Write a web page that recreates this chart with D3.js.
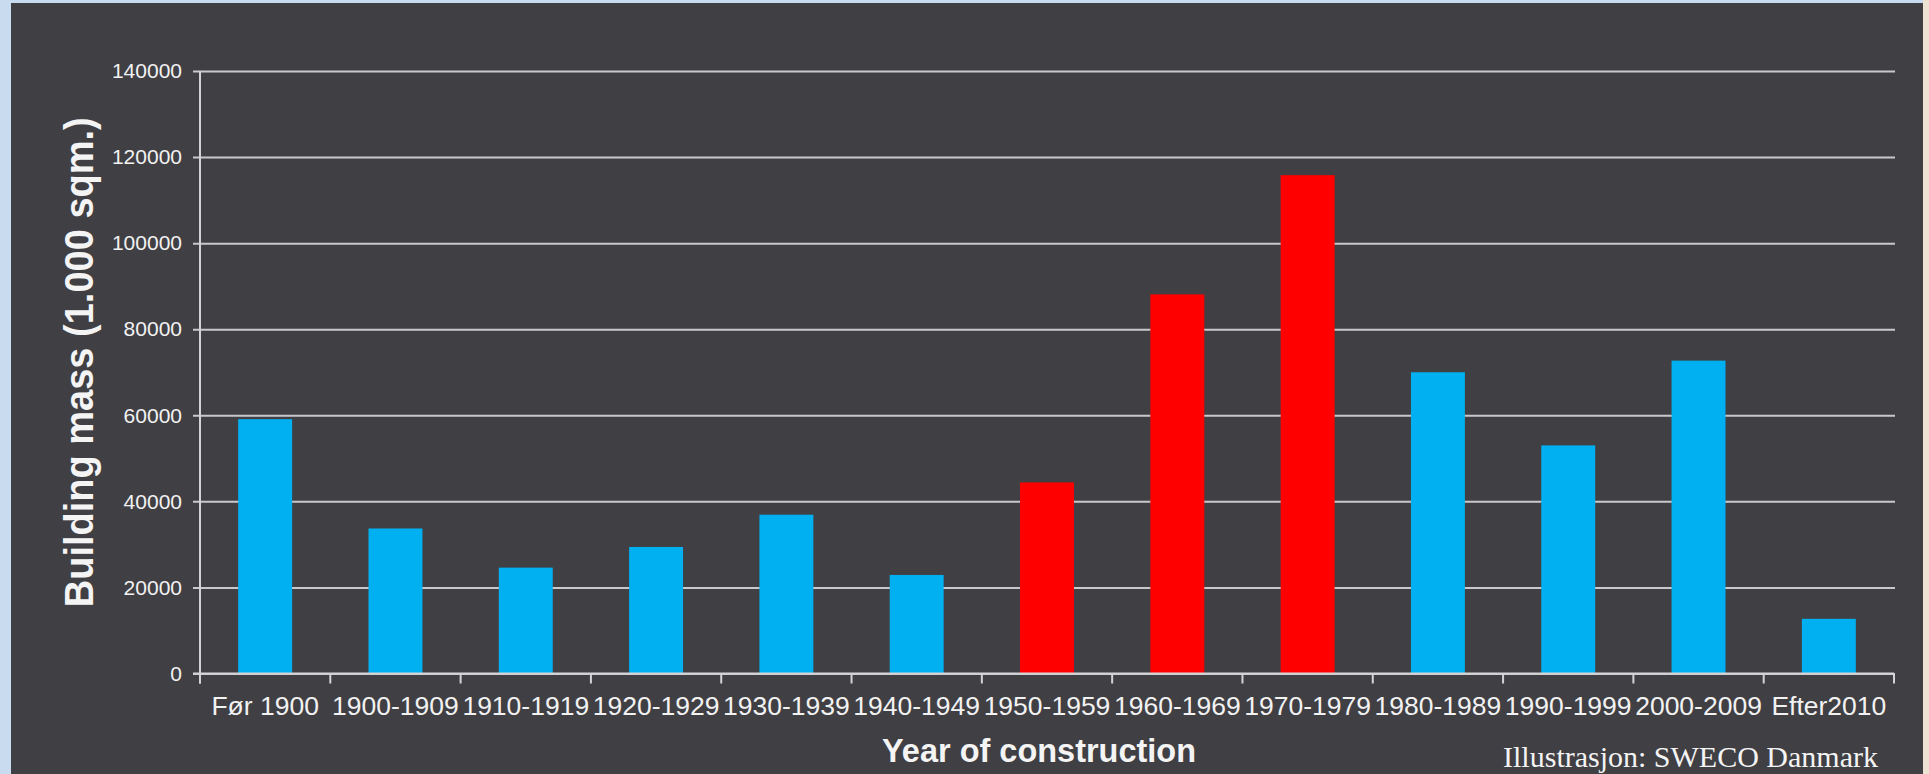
<!DOCTYPE html>
<html>
<head>
<meta charset="utf-8">
<script src="https://cdn.jsdelivr.net/npm/d3@7"></script>
<style>
	body{margin:0;background:#c9dcef;overflow:hidden;}
	text{font-family:"Liberation Sans", Arial, sans-serif;}
</style>
</head>
<body>
<div id="chart"></div>
<script>
var categories = ["Før 1900", "1900-1909", "1910-1919", "1920-1929", "1930-1939", "1940-1949", "1950-1959", "1960-1969", "1970-1979", "1980-1989", "1990-1999", "2000-2009", "Efter2010"]
var mass = [59100, 33700, 24600, 29400, 36900, 22900, 44400, 88100, 115800, 70000, 53000, 72700, 12700]
var highlighted = ["1950-1959", "1960-1969", "1970-1979"]
var yTicks = [0, 20000, 40000, 60000, 80000, 100000, 120000, 140000]

var w = 1929, h = 774
var pLeft = 200, pRight = 1894, pTop = 71, pBottom = 673.5

var svg = d3.select("#chart")
	.append("svg")
	.attr("width", w)
	.attr("height", h)

// backdrop: light blue photo edge, beige strip on the right, dark panel
svg.append("rect")
	.attr("x", 1923).attr("y", 0)
	.attr("width", 6).attr("height", h)
	.attr("fill", "#ece3d2")
svg.append("rect")
	.attr("x", 11).attr("y", 3)
	.attr("width", 1912).attr("height", h)
	.attr("fill", "#403f44")

var x = d3.scaleBand()
	.domain(categories)
	.range([pLeft, pRight])
	.paddingInner(0.586)
	.paddingOuter(0.293)

var y = d3.scaleLinear()
	.domain([0, 140000])
	.range([pBottom, pTop])

// gridlines + y axis
var yAxis = svg.append("g")
	.attr("transform", "translate(" + pLeft + ",0)")
	.call(d3.axisLeft(y).tickValues(yTicks).tickSize(-(pRight - pLeft) - 1).tickPadding(11).tickFormat(d3.format("d")))
yAxis.select(".domain").remove()
yAxis.selectAll(".tick line")
	.attr("x1", -7)
	.attr("stroke", "#c9c9cc")
	.attr("stroke-width", 2)
yAxis.selectAll(".tick text")
	.attr("x", -18)
	.attr("fill", "#f2f2f2")
	.attr("font-size", "21px")
	.attr("font-family", "Liberation Sans, Arial, sans-serif")

svg.selectAll(".bar")
	.data(mass)
	.enter()
	.append("rect")
	.attr("class", "bar")
	.attr("x", function(d, i){return x(categories[i])})
	.attr("y", function(d){return y(d)})
	.attr("width", x.bandwidth())
	.attr("height", function(d){return y(0) - y(d)})
	.attr("fill", function(d, i){return highlighted.indexOf(categories[i]) > -1 ? "#ff0000" : "#00b0f0"})

// axis lines
svg.append("line")
	.attr("x1", pLeft).attr("x2", pLeft)
	.attr("y1", pTop).attr("y2", pBottom + 10)
	.attr("stroke", "#d4d4d6").attr("stroke-width", 2)
svg.append("line")
	.attr("x1", pLeft - 7).attr("x2", pRight)
	.attr("y1", pBottom).attr("y2", pBottom)
	.attr("stroke", "#d4d4d6").attr("stroke-width", 2)

// category boundary ticks
var bounds = d3.range(categories.length + 1)
svg.selectAll(".ctick")
	.data(bounds)
	.enter()
	.append("line")
	.attr("class", "ctick")
	.attr("x1", function(d){return pLeft + d * x.step()})
	.attr("x2", function(d){return pLeft + d * x.step()})
	.attr("y1", pBottom)
	.attr("y2", pBottom + 10)
	.attr("stroke", "#d4d4d6").attr("stroke-width", 2)

svg.selectAll(".xlab")
	.data(categories)
	.enter()
	.append("text")
	.attr("class", "xlab")
	.attr("x", function(d){return x(d) + x.bandwidth() / 2})
	.attr("y", 715)
	.attr("text-anchor", "middle")
	.attr("fill", "#f2f2f2")
	.attr("font-size", "26.5px")
	.text(function(d){return d})

svg.append("text")
	.attr("transform", "translate(93," + ((pTop + pBottom) / 2 - 10) + ") rotate(-90)")
	.attr("text-anchor", "middle")
	.attr("fill", "#f4f4f4")
	.attr("font-family", "Roboto, sans-serif")
	.attr("font-weight", "bold")
	.attr("font-size", "40px")
	.attr("textLength", 490)
	.attr("lengthAdjust", "spacingAndGlyphs")
	.text("Building mass (1.000 sqm.)")

svg.append("text")
	.attr("x", 1039)
	.attr("y", 762)
	.attr("text-anchor", "middle")
	.attr("fill", "#f4f4f4")
	.attr("font-family", "Roboto, sans-serif")
	.attr("font-weight", "bold")
	.attr("font-size", "34px")
	.attr("textLength", 314)
	.attr("lengthAdjust", "spacingAndGlyphs")
	.text("Year of construction")

svg.append("text")
	.attr("x", 1878)
	.attr("y", 767)
	.attr("text-anchor", "end")
	.attr("fill", "#f4f4f4")
	.style("font-family", "'Liberation Serif', 'Times New Roman', serif")
	.attr("font-size", "30px")
	.text("Illustrasjon: SWECO Danmark")
</script>
</body>
</html>
